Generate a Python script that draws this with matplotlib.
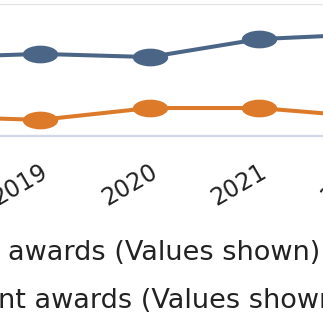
import matplotlib
matplotlib.use("Agg")
import matplotlib.pyplot as plt
from matplotlib.path import Path
from matplotlib.transforms import Affine2D

# ---------------------------------------------------------------------------
# Data (y-axis scale itself is outside the crop)
# ---------------------------------------------------------------------------
years         = [2018, 2019, 2020, 2021, 2022]
series_blue   = [297, 311, 299, 367, 386]
series_orange = [74, 61, 106, 106, 72]
year_labels   = [str(y) for y in years]

label_blue   = "awards (Values shown)"
label_orange = "nt awards (Values shown)"

BLUE   = "#4a6585"
ORANGE = "#dc7a2a"
TEXT   = "#222222"
W, H   = 323, 323

plt.rcParams["font.family"] = ["DejaVu Sans"]

fig = plt.figure(figsize=(W / 100, H / 100), dpi=100)
fig.patch.set_facecolor("white")

# axes spills over the canvas edges: the reference is a crop of a wider chart
px_year = 109.5
x_left  = 40 - 1.5 * px_year
x_right = 40 + 3.5 * px_year
ax = fig.add_axes([x_left / W, (H - 136) / H,
                   (x_right - x_left) / W, 132 / H])

# elliptical markers (the source image is stretched horizontally)
ellipse = Path.unit_circle().transformed(Affine2D().scale(2.0, 1.0))

ax.plot(years, series_blue, color=BLUE, lw=2.9, marker=ellipse,
        markersize=25.5, markeredgewidth=0, solid_capstyle="butt")
ax.plot(years, series_orange, color=ORANGE, lw=2.9, marker=ellipse,
        markersize=25.5, markeredgewidth=0, solid_capstyle="butt")

ax.set_xlim(2017.5, 2022.5)
ax.set_ylim(0, 500)
ax.set_yticks([0, 500])
ax.yaxis.grid(True, color="#e2e2e2", lw=1.6)
ax.set_axisbelow(True)
for side in ["left", "right", "top"]:
    ax.spines[side].set_visible(False)
ax.spines["bottom"].set_color("#d3d8e8")
ax.spines["bottom"].set_linewidth(1.6)

ax.set_xticks(years)
ax.set_xticklabels(year_labels, rotation=30, ha="right",
                   rotation_mode="anchor", fontsize=17, color=TEXT)
ax.tick_params(axis="x", length=0, pad=17)
ax.tick_params(axis="y", length=0, labelleft=False)

# legend entries (markers are off-canvas to the left in the crop)
fig.text(8 / W, 1 - 260 / H, label_blue, fontsize=19.5, color=TEXT,
         ha="left", va="baseline")
fig.text(-2 / W, 1 - 308 / H, label_orange, fontsize=19.5, color=TEXT,
         ha="left", va="baseline")

fig.savefig("out.png", dpi=100, facecolor="white")
